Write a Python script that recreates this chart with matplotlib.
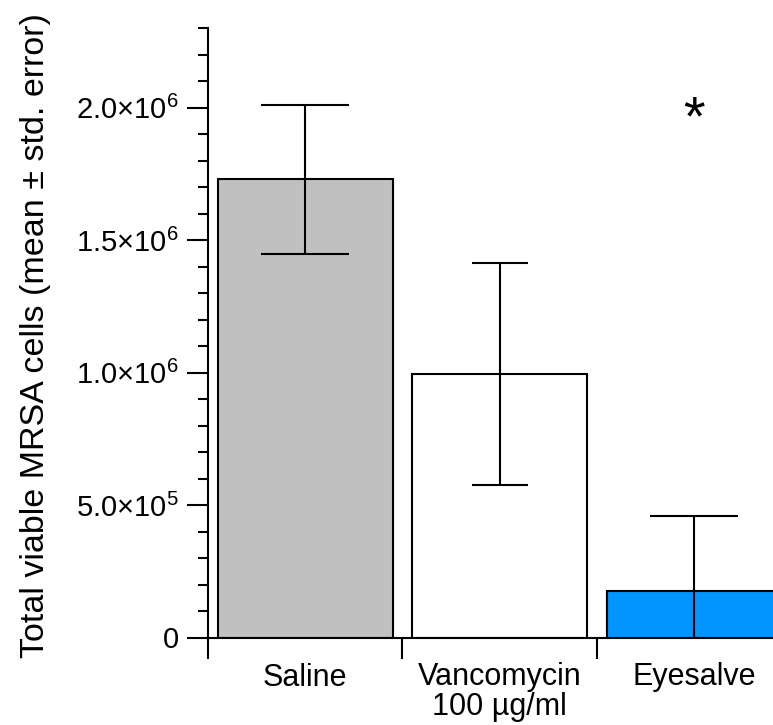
import matplotlib.pyplot as plt
from matplotlib.ticker import MultipleLocator, FixedLocator

plt.rcParams['font.family'] = ['Liberation Sans', 'DejaVu Sans']
plt.rcParams['mathtext.fontset'] = 'custom'
plt.rcParams['mathtext.rm'] = 'Liberation Sans'

# données
traitements = ['Saline', 'Vancomycin\n100 µg/ml', 'Eyesalve']
moyennes = [1.729e6, 0.994e6, 0.175e6]
erreurs = [0.281e6, 0.418e6, 0.283e6]
couleurs = ['#c0c0c0', '#ffffff', '#0095ff']
largeurs_cap = [16, 10, 16]
graduations_y = [0, 5e5, 1e6, 1.5e6, 2e6]
etiquettes_y = ['0', r'$\mathregular{5.0{\times}10^{5}}$', r'$\mathregular{1.0{\times}10^{6}}$',
                r'$\mathregular{1.5{\times}10^{6}}$', r'$\mathregular{2.0{\times}10^{6}}$']

fig = plt.figure(figsize=(7.73, 7.25), dpi=100)
ax = fig.add_axes([208 / 773, 87.5 / 725, 1 - 208 / 773, (637.5 - 28) / 725])

x = range(len(traitements))
ax.bar(x, moyennes, width=0.9, color=couleurs, edgecolor='black', linewidth=1.5, zorder=2)
for i in x:
    ax.errorbar(i, moyennes[i], yerr=erreurs[i], fmt='none', ecolor='black',
                elinewidth=1.5, capsize=largeurs_cap[i] * 2, capthick=1.5, zorder=3)

# astérisque de significativité
ax.text(2, 1.95e6, '*', ha='center', va='center', fontsize=40)

ax.set_xlim(-0.5, 2.405)
ax.set_ylim(0, 2.3e6)
ax.spines['top'].set_visible(False)
ax.spines['right'].set_visible(False)
ax.spines['left'].set_linewidth(1.5)
ax.spines['bottom'].set_linewidth(1.5)

ax.set_yticks(graduations_y)
ax.set_yticklabels(etiquettes_y, fontsize=21)
ax.yaxis.set_minor_locator(MultipleLocator(1e5))
ax.tick_params(axis='y', which='major', length=15, width=1.5, pad=6)
ax.tick_params(axis='y', which='minor', length=7.5, width=1.5)

ax.xaxis.set_major_locator(FixedLocator([-0.5, 0.5, 1.5]))
ax.set_xticklabels(['', '', ''])
ax.xaxis.set_minor_locator(FixedLocator(list(x)))
ax.set_xticklabels(traitements, minor=True, fontsize=22, linespacing=1.0)
ax.tick_params(axis='x', which='major', length=15, width=1.5, direction='out')
ax.tick_params(axis='x', which='minor', length=0, pad=18)

ax.set_ylabel('Total viable MRSA cells (mean ± std. error)', fontsize=24.5)
ax.yaxis.set_label_coords(-0.278, 0.495)

fig.savefig('out.png', dpi=100)
